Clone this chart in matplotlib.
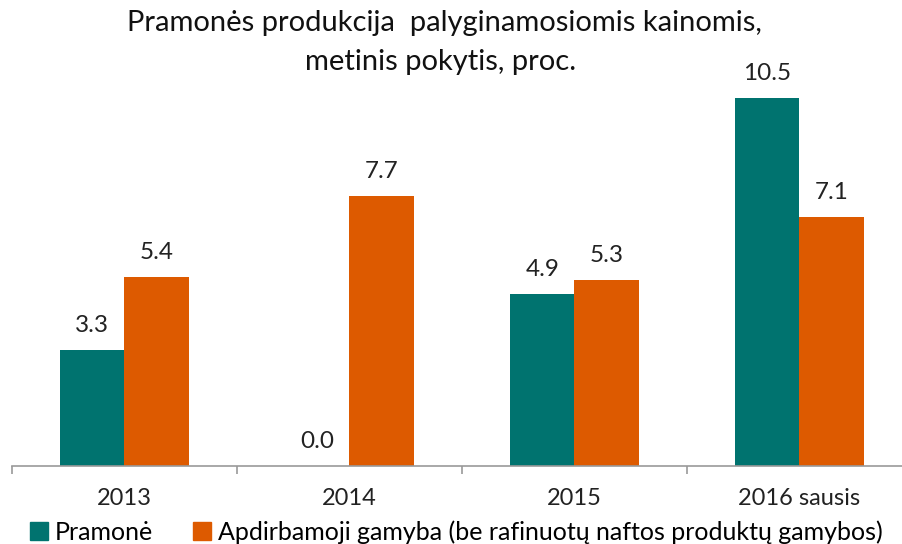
import numpy as np
import matplotlib
matplotlib.use("Agg")
import matplotlib.pyplot as plt
from matplotlib.patches import Patch

categories = ["2013", "2014", "2015", "2016 sausis"]
pramone = [3.3, 0.0, 4.9, 10.5]
apdirbamoji = [5.4, 7.7, 5.3, 7.1]
series_names = ["Pramonė", "Apdirbamoji gamyba (be rafinuotų naftos produktų gamybos)"]
title_lines = ["Pramonės produkcija  palyginamosiomis kainomis,", "metinis pokytis, proc."]

teal = "#00736F"
orange = "#DD5A00"

plt.rcParams["font.family"] = ["Lato", "DejaVu Sans"]

fig = plt.figure(figsize=(9.02, 5.44), dpi=100)
ax = fig.add_axes([12 / 902, 78 / 544, 900 / 902, 386 / 544])

x = np.arange(len(categories))
w = 0.285
b1 = ax.bar(x - w / 2, pramone, w, color=teal)
b2 = ax.bar(x + w / 2, apdirbamoji, w, color=orange)

# value labels above bars
for bars, vals in [(b1, pramone), (b2, apdirbamoji)]:
    for r, v in zip(bars, vals):
        ax.annotate(f"{v:.1f}", (r.get_x() + r.get_width() / 2, v),
                    xytext=(0, 10), textcoords="offset points",
                    ha="center", va="bottom", fontsize=17.5, color="#222222")

ax.set_xlim(-0.5, len(categories) - 0.5)
ax.set_ylim(0, 11.0)
ax.set_yticks([])
for s in ["top", "right", "left"]:
    ax.spines[s].set_visible(False)
ax.spines["bottom"].set_color("#999999")
ax.spines["bottom"].set_linewidth(1.2)

ax.set_xticks(x)
ax.set_xticklabels(categories, fontsize=17, color="#222222")
ax.tick_params(axis="x", length=0, pad=16)
ax.set_xticks(np.arange(len(categories) + 1) - 0.5, minor=True)
ax.tick_params(axis="x", which="minor", length=6, color="#999999", width=1.2)

fig.text(444 / 902, 1 - 23 / 544, title_lines[0], ha="center", va="center",
         fontsize=21, color="#111111")
fig.text(441 / 902, 1 - 62 / 544, title_lines[1], ha="center", va="center",
         fontsize=21, color="#111111")

handles = [Patch(color=teal), Patch(color=orange)]
fig.legend(handles, series_names, loc="center left",
           bbox_to_anchor=(30 / 902, 12 / 544), ncol=2, frameon=False,
           fontsize=18, handlelength=0.7, handleheight=0.7,
           handletextpad=0.3, columnspacing=1.6, borderpad=0, borderaxespad=0)

fig.savefig("out.png", dpi=100)
